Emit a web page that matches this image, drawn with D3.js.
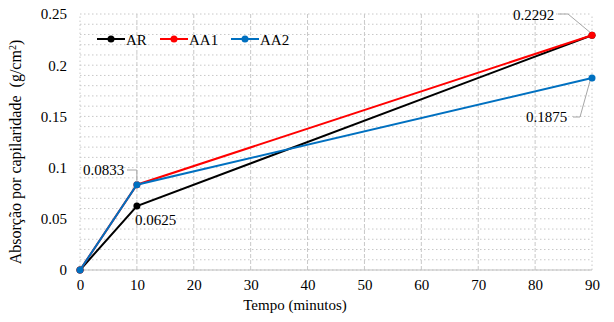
<!DOCTYPE html>
<html><head><meta charset="utf-8">
<script src="https://cdn.jsdelivr.net/npm/d3@7"></script>
</head><body style="margin:0">
<svg id="c" width="614" height="322" style="font-family:'Liberation Serif','Times New Roman',serif"></svg>
<script>
const times = [0, 10, 90];
const AR = [0, 0.0625, 0.2292];
const AA1 = [0, 0.0833, 0.2292];
const AA2 = [0, 0.0833, 0.1875];
const seriesNames = ["AR", "AA1", "AA2"];
const seriesColors = ["#000000", "#ff0000", "#0070c0"];
const xTicks = [0,10,20,30,40,50,60,70,80,90];
const yTicks = [0,0.05,0.1,0.15,0.2,0.25];
const yTickLabels = ["0","0.05","0.1","0.15","0.2","0.25"];

const svg = d3.select("#c");
const x = d3.scaleLinear().domain([0,90]).range([80,592]);
const y = d3.scaleLinear().domain([0,0.25]).range([270,14]);
const serif = (sel, fs) => sel.style("font-family","'Liberation Serif','Times New Roman',serif").style("font-size",(fs||15)+"px").attr("fill","#000");

const g = svg.append("g");
d3.range(0,0.2501,0.01).forEach(v=>{
  g.append("line").attr("x1",x(0)).attr("x2",x(90)).attr("y1",y(v)).attr("y2",y(v))
   .attr("stroke","#c8c8c8").attr("stroke-width",1).attr("stroke-dasharray","1.5,2.5");
});
xTicks.forEach(v=>{
  g.append("line").attr("x1",x(v)).attr("x2",x(v)).attr("y1",y(0)).attr("y2",y(0.25))
   .attr("stroke","#c8c8c8").attr("stroke-width",1).attr("stroke-dasharray", v===0||v===90? "1.5,2.5":"4,2");
});
g.append("line").attr("x1",x(0)).attr("x2",x(90)).attr("y1",y(0)).attr("y2",y(0)).attr("stroke","#bfbfbf").attr("stroke-width",1);

const xAxis = svg.append("g").attr("transform",`translate(0,${y(0)})`)
  .call(d3.axisBottom(x).tickValues(xTicks).tickSize(0).tickPadding(9));
const yAxis = svg.append("g").attr("transform",`translate(${x(0)},0)`)
  .call(d3.axisLeft(y).tickValues(yTicks).tickFormat((d,i)=>yTickLabels[i]).tickSize(0).tickPadding(13));
[xAxis,yAxis].forEach(a=>{
  a.attr("font-family",null).attr("font-size",null);
  a.select(".domain").remove();
  serif(a.selectAll("text"));
});

const data = [AR, AA1, AA2];
const line = d3.line().x((d,i)=>x(times[i])).y(d=>y(d));
data.forEach((s,k)=>{
  svg.append("path").datum(s).attr("d",line).attr("fill","none").attr("stroke",seriesColors[k]).attr("stroke-width",2);
  svg.selectAll(null).data(s).enter().append("circle")
    .attr("cx",(d,i)=>x(times[i])).attr("cy",d=>y(d)).attr("r",3.5).attr("fill",seriesColors[k]);
});

const legX = [97, 160, 231];
seriesNames.forEach((n,k)=>{
  const lg = svg.append("g").attr("transform",`translate(${legX[k]},39)`);
  lg.append("line").attr("x1",0).attr("x2",28).attr("stroke",seriesColors[k]).attr("stroke-width",2);
  lg.append("circle").attr("cx",14).attr("r",3.5).attr("fill",seriesColors[k]);
  serif(lg.append("text").attr("x",29).attr("y",5.5).text(n));
});

const lbl = (t,xx,yy)=>serif(svg.append("text").attr("x",xx).attr("y",yy).text(t));
lbl(d3.format(".4f")(AA1[2]), 513, 20);
lbl(d3.format(".4f")(AA2[2]), 526, 122);
lbl(d3.format(".4f")(AA1[1]), 83, 175);
lbl(d3.format(".4f")(AR[1]), 135, 225);
const lead = (pts)=>svg.append("path").attr("d",d3.line()(pts)).attr("fill","none").attr("stroke","#a6a6a6").attr("stroke-width",1);
lead([[558,14],[568,14],[x(90)-2,y(AA1[2])-3]]);
lead([[573,117],[580,117],[x(90)-2,y(AA2[2])+3]]);
lead([[127,170],[x(10),170],[x(10),y(AA1[1])-3]]);

serif(svg.append("text").attr("x",295).attr("y",310).attr("text-anchor","middle").text("Tempo (minutos)"));
const yt = serif(svg.append("text").attr("transform","translate(21,152) rotate(-90)").attr("text-anchor","middle"), 16);
yt.append("tspan").text("Absorção por capilaridade\u00a0\u00a0(g/cm");
yt.append("tspan").attr("baseline-shift","super").style("font-size","10px").text("2");
yt.append("tspan").text(")");
</script>
</body></html>
